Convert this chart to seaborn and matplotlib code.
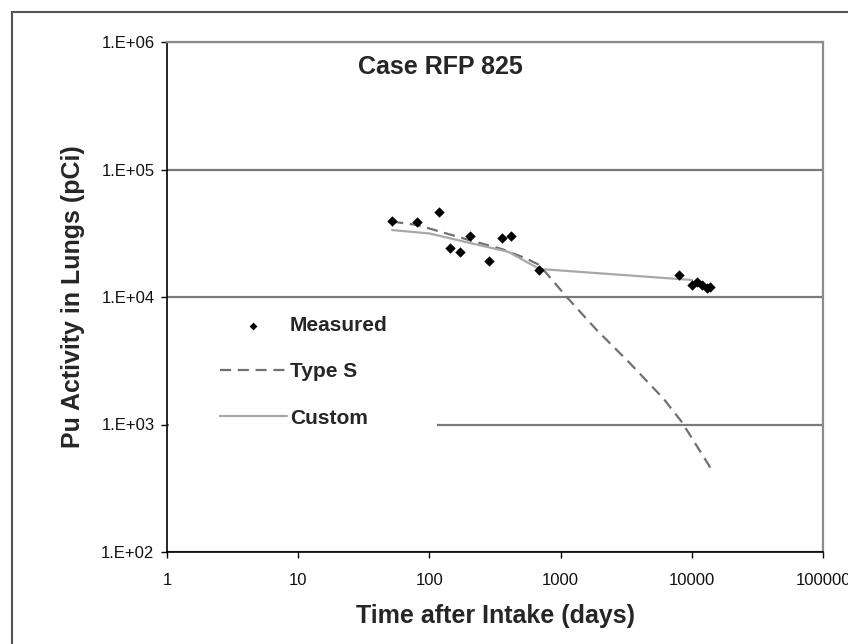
import numpy as np
import pandas as pd
import seaborn as sns
import matplotlib.pyplot as plt
from matplotlib.patches import Rectangle
from matplotlib.ticker import FixedLocator, FixedFormatter, NullLocator

# 数据
measured_days = [52, 81, 118, 144, 172, 204, 286, 359, 417, 688,
                 7990, 9980, 10900, 11900, 13000, 13800]
measured_pci = [39700, 38500, 46100, 24100, 22400, 30100, 19300, 28800, 30100, 16300,
                14900, 12400, 13200, 12400, 11700, 12000]

type_s_days = [52, 81, 200, 360, 550, 690, 1113, 1884, 3380, 6070, 8370, 14200]
type_s_pci = [39000, 36700, 28000, 23700, 20000, 17800, 10000, 5510, 3020, 1600, 1051, 440]

custom_days = [52, 100, 204, 400, 688, 10000]
custom_pci = [33500, 31500, 26500, 22600, 16600, 13600]

x_ticks = [1, 10, 100, 1000, 10000, 100000]
x_tick_labels = ['1', '10', '100', '1000', '10000', '100000']
y_ticks = [1e2, 1e3, 1e4, 1e5, 1e6]
y_tick_labels = ['1.E+02', '1.E+03', '1.E+04', '1.E+05', '1.E+06']

measured = pd.DataFrame({'days': measured_days, 'pci': measured_pci})
type_s = pd.DataFrame({'days': type_s_days, 'pci': type_s_pci})
custom = pd.DataFrame({'days': custom_days, 'pci': custom_pci})

sns.set_theme(style='white')
plt.rcParams['font.family'] = ['Liberation Sans', 'DejaVu Sans']

fig = plt.figure(figsize=(8.48, 6.44), dpi=100)
ax = fig.add_axes([167 / 848, 92 / 644, 656 / 848, 510 / 644])

# 外框
fig.patches.append(Rectangle((12 / 848, -0.2), 1.2, 1.2 - 12 / 644,
                             transform=fig.transFigure, fill=False,
                             edgecolor='#555555', linewidth=1.5))

sns.scatterplot(data=measured, x='days', y='pci', marker='D', s=28, color='black',
                edgecolor='black', linewidth=0, label='Measured', ax=ax, zorder=4)
sns.lineplot(data=type_s, x='days', y='pci', color='#707070', linewidth=1.6,
             dashes=False, label='Type S', ax=ax, zorder=3)
ax.lines[-1].set_dashes([5, 3])
sns.lineplot(data=custom, x='days', y='pci', color='#a8a8a8', linewidth=1.6,
             label='Custom', ax=ax, zorder=3)

ax.set_xscale('log')
ax.set_yscale('log')
ax.set_xlim(1, 1e5)
ax.set_ylim(1e2, 1e6)

ax.xaxis.set_major_locator(FixedLocator(x_ticks))
ax.xaxis.set_major_formatter(FixedFormatter(x_tick_labels))
ax.xaxis.set_minor_locator(NullLocator())
ax.yaxis.set_major_locator(FixedLocator(y_ticks))
ax.yaxis.set_major_formatter(FixedFormatter(y_tick_labels))
ax.yaxis.set_minor_locator(NullLocator())

ax.set_axisbelow(True)
ax.yaxis.grid(True, color='#7a7a7a', linewidth=1.6)
ax.xaxis.grid(False)

ax.tick_params(axis='both', which='major', direction='out', length=4, width=1,
               color='black', labelsize=12, labelcolor='#111111')
ax.tick_params(axis='x', pad=11, bottom=True)
ax.tick_params(axis='y', pad=5, left=True)

for side in ['left', 'bottom']:
    ax.spines[side].set_color('black')
    ax.spines[side].set_linewidth(1.2)
for side in ['top', 'right']:
    ax.spines[side].set_color('#8c8c8c')
    ax.spines[side].set_linewidth(1.6)

ax.set_xlabel('Time after Intake (days)', fontsize=18, fontweight='bold', va='center')
ax.xaxis.set_label_coords(0.5, -0.125)
ax.set_ylabel('Pu Activity in Lungs (pCi)', fontsize=18, fontweight='bold', va='center')
ax.yaxis.set_label_coords(-0.143, 0.5)

ax.text(0.416, 0.951, 'Case RFP 825', transform=ax.transAxes, ha='center', va='center',
        fontsize=18, fontweight='bold')

# 图例背景遮住网格线
ax.add_patch(Rectangle((0.003, 0.17), 0.4086, 0.28, transform=ax.transAxes,
                       facecolor='white', edgecolor='none', zorder=1.5))

ax.legend(loc='center left', bbox_to_anchor=(0.081, 0.353), frameon=False,
          prop={'weight': 'bold', 'size': 15}, handlelength=3.2,
          handletextpad=0.15, labelspacing=1.3, markerscale=0.75,
          borderpad=0, borderaxespad=0)

fig.savefig('out.png', dpi=100)
